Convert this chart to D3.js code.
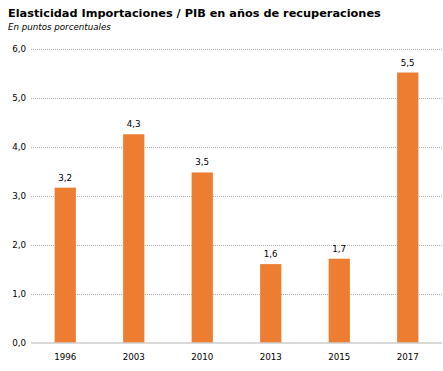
<!DOCTYPE html>
<html>
<head>
<meta charset="utf-8">
<script src="https://cdn.jsdelivr.net/npm/d3@7"></script>
<style>
    body { margin: 0; background: #fff; }
    svg { display: block; font-family: "DejaVu Sans", Verdana, sans-serif; }
    .grid line { stroke: #b0b0b0; stroke-dasharray: 1,1; }
    .grid path { display: none; }
</style>
</head>
<body>
<svg id="chart" width="443" height="371"></svg>
<script>
// data
const years = ["1996", "2003", "2010", "2013", "2015", "2017"];
const elasticity = [3.17, 4.26, 3.48, 1.61, 1.72, 5.52];
const yTicks = [0, 1, 2, 3, 4, 5, 6];

const svg = d3.select("#chart");
const plotLeft = 31, plotRight = 442, plotTop = 49, plotBottom = 343;

// title
svg.append("text")
    .attr("x", 8).attr("y", 17)
    .style("font-size", "11.3px").style("font-weight", "bold")
    .text("Elasticidad Importaciones / PIB en años de recuperaciones");
svg.append("text")
    .attr("x", 8).attr("y", 30)
    .style("font-size", "8.7px").style("font-style", "italic")
    .text("En puntos porcentuales");

let x = d3.scaleBand().domain(years).range([plotLeft, plotRight]).padding(0);
let y = d3.scaleLinear().domain([0, 6]).range([plotBottom, plotTop]);

let fmt = v => v.toFixed(1).replace(".", ",");

// gridlines
svg.append("g")
    .attr("class", "grid")
    .attr("transform", "translate(" + plotLeft + ",0)")
    .call(d3.axisRight(y).tickValues(yTicks.slice(1)).tickSize(plotRight - plotLeft).tickFormat(""));

// y labels
svg.append("g")
    .selectAll("text")
    .data(yTicks)
    .enter()
    .append("text")
    .attr("x", 26)
    .attr("y", d => y(d) + 3)
    .attr("text-anchor", "end")
    .style("font-size", "8.7px")
    .text(d => fmt(d));

// bars
let bw = x.bandwidth() * 0.31;
svg.append("g")
    .selectAll("rect")
    .data(elasticity)
    .enter()
    .append("rect")
    .attr("x", (d, i) => x(years[i]) + x.bandwidth() / 2 - bw / 2)
    .attr("y", d => y(d))
    .attr("width", bw)
    .attr("height", d => y(0) - y(d))
    .attr("fill", "#ED7D31");

// value labels
svg.append("g")
    .selectAll("text")
    .data(elasticity)
    .enter()
    .append("text")
    .attr("x", (d, i) => x(years[i]) + x.bandwidth() / 2)
    .attr("y", d => y(d) - 7)
    .attr("text-anchor", "middle")
    .style("font-size", "8.7px")
    .text(d => fmt(d));

// baseline
svg.append("line")
    .attr("x1", plotLeft).attr("x2", plotRight)
    .attr("y1", y(0)).attr("y2", y(0))
    .attr("stroke", "#ccc").attr("stroke-width", 1.5);

// year labels
svg.append("g")
    .selectAll("text")
    .data(years)
    .enter()
    .append("text")
    .attr("x", d => x(d) + x.bandwidth() / 2)
    .attr("y", 360)
    .attr("text-anchor", "middle")
    .style("font-size", "8.7px")
    .text(d => d);
</script>
</body>
</html>
